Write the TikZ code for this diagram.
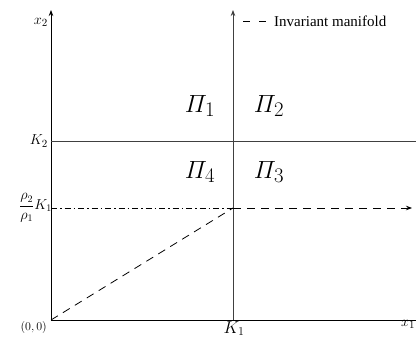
\documentclass[tikz,border=0pt]{standalone}
\usepackage{amsmath}
\usepackage{fontspec}
\newfontfamily\tnr{Liberation Serif}
\usetikzlibrary{arrows.meta}
\begin{document}
\begin{tikzpicture}[x=1pt,y=-1pt,
  axis/.style={line width=0.8pt,black},
  grid/.style={line width=0.8pt,black!75},
  tip/.style={-{Stealth[length=6pt,width=4.5pt]}},
  pilab/.style={font=\fontsize{32}{36}\selectfont},
  lab/.style={font=\fontsize{15}{17}\selectfont}]
\useasboundingbox (0,0) rectangle (416,340);
\coordinate (O) at (51,320);
\coordinate (Ytop) at (51,10);
\coordinate (Xend) at (416,320);
\coordinate (Kb) at (233,320);
\coordinate (Kt) at (233,10);
\coordinate (K2l) at (51,141);
\coordinate (K2r) at (416,141);
\coordinate (Rl) at (51,208);
\coordinate (P) at (233,208);
\coordinate (Rr) at (412,208);
\draw[axis,tip] (O) -- (Ytop);
\draw[axis] (O) -- (Xend);
\draw[grid,tip] (Kb) -- (Kt);
\draw[grid] (K2l) -- (K2r);
\draw[line width=0.8pt,dash pattern=on 6pt off 3pt on 1.5pt off 3pt] (Rl) -- (P);
\draw[line width=0.8pt,dash pattern=on 8pt off 6pt,tip] (P) -- (Rr);
\draw[line width=0.8pt,dash pattern=on 8pt off 6pt] (O) -- (P);
\node[lab,anchor=east,inner sep=1pt] (x2) at (49,22) {$x_2$};
\node[lab,anchor=north,inner sep=1pt] (x1) at (408,319) {$x_1$};
\node[font=\fontsize{12}{14}\selectfont,anchor=east,inner sep=1pt] (orig) at (48,327) {$(0,0)$};
\node[lab,anchor=east,inner sep=1pt] (K2) at (49,141) {$K_2$};
\node[font=\fontsize{18}{20}\selectfont,anchor=north] (K1) at (234,318) {$K_1$};
\node[font=\fontsize{14}{16}\selectfont,anchor=east,inner sep=1pt] (rho) at (53,208) {$\dfrac{\rho_2}{\rho_1}K_1$};
\node[pilab] (p1) at (200,106) {$\varPi_1$};
\node[pilab] (p2) at (269,106) {$\varPi_2$};
\node[pilab] (p4) at (200,172) {$\varPi_4$};
\node[pilab] (p3) at (269,172) {$\varPi_3$};
\coordinate (L1) at (243,21);
\coordinate (L2) at (266,21);
\draw[line width=0.8pt,dash pattern=on 7pt off 9pt] (L1) -- (L2);
\node[anchor=west,font=\tnr\fontsize{15}{17}\selectfont,inner sep=0pt] (leg) at ([xshift=8pt]L2) {Invariant manifold};
\end{tikzpicture}
\end{document}
